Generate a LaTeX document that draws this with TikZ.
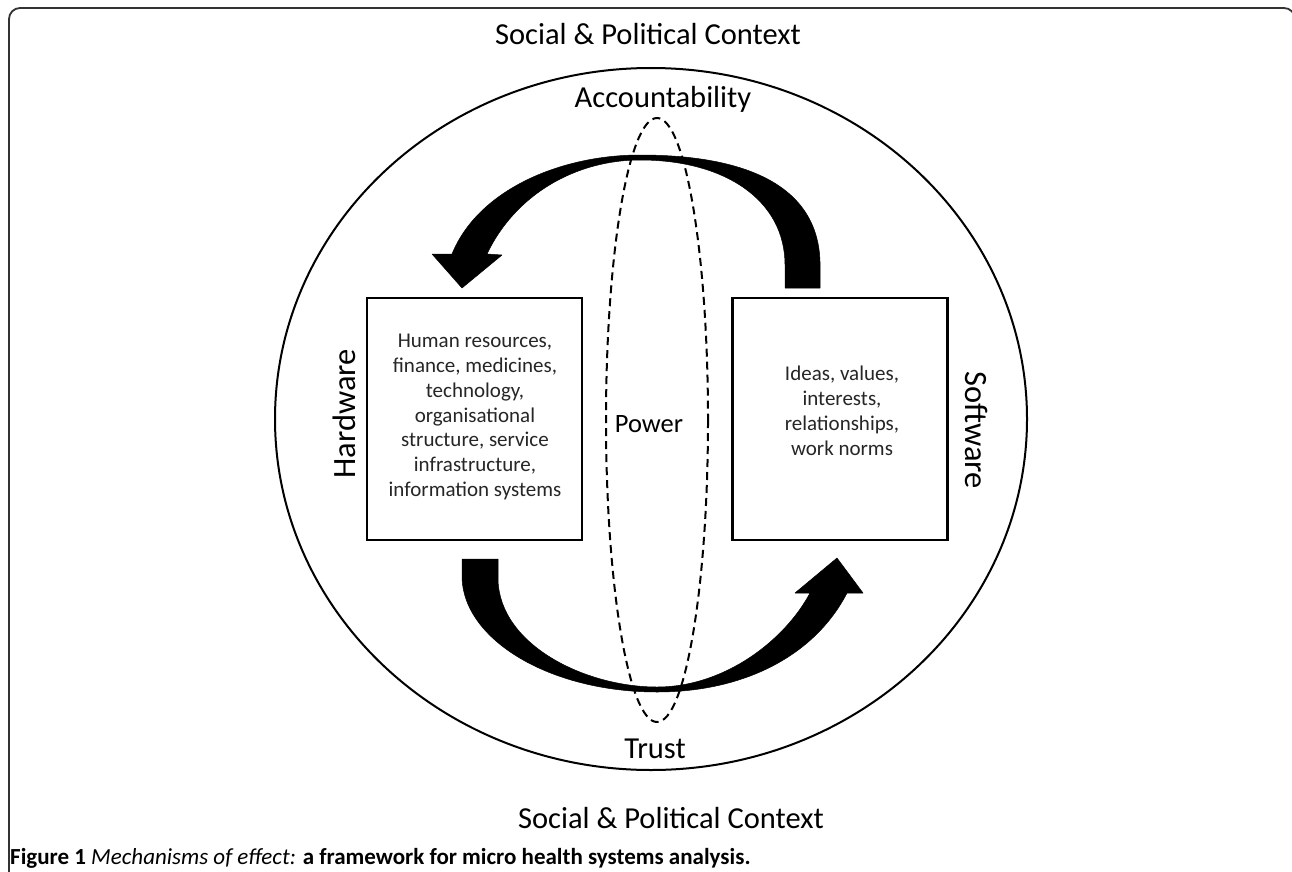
\documentclass[tikz,border=0pt]{standalone}
\usepackage{fontspec}
\setmainfont{Carlito}
\begin{document}
\begin{tikzpicture}[x=1pt,y=-1pt,
  lbl/.style={font=\fontsize{30.5}{34}\selectfont, inner sep=0pt},
  sidelbl/.style={font=\fontsize{32.5}{36}\selectfont, inner sep=0pt},
  boxtxt/.style={font=\fontsize{21}{24.9}\selectfont, align=center, inner sep=0pt, text=black!85},
  box/.style={draw, line width=2.2pt, minimum width=215pt, minimum height=242pt, inner sep=0pt},
  fat/.style={fill=black, draw=black, line width=0.5pt, line join=round}]
\useasboundingbox (0,0) rectangle (1292,872);
\fill[white] (0,0) rectangle (1292,872);
\draw[line width=1.8pt, black!80, rounded corners=11pt] (9,900) -- (9,8) -- (1295,8) -- (1295,900);
% outer circle
\draw[line width=2pt] (651,419) ellipse [x radius=376, y radius=351];
% dashed ellipse
\draw[dash pattern=on 8pt off 5pt, line width=2pt] (657,420) ellipse [x radius=51, y radius=302];
% boxes
\node[box] (hw) at (474.5,419) {};
\node[box] (sw) at (840,419) {};
\node[boxtxt] (hwtxt) at (475,417) {Human resources,\\finance, medicines,\\technology,\\organisational\\structure, service\\infrastructure,\\information systems};
\node[boxtxt] (swtxt) at (842,411) {Ideas, values,\\interests,\\relationships,\\work norms};
% labels
\node[sidelbl, rotate=90] (hwl) at (344,414) {Hardware};
\node[sidelbl, rotate=-90] (swl) at (977,430) {Software};
\node[lbl, anchor=base, font=\fontsize{26.5}{30}\selectfont] (power) at (649,432) {Power};
\node[lbl, anchor=base] (acc) at (663,107) {Accountability};
\node[lbl, anchor=base] (trust) at (655,758) {Trust};
\node[lbl, anchor=base] (spctop) at (648,45) {Social \& Political Context};
\node[lbl, anchor=base] (spcbot) at (671,828) {Social \& Political Context};
% arrows
\path[fat] (820,288) -- (820,262) .. controls (818,185) and (745,155) .. (640,155)
  .. controls (560,155) and (478,190) .. (452,254) -- (432,254) -- (462,288) -- (502,255) -- (487,254)
  .. controls (515,195) and (575,160) .. (640,160) .. controls (725,160) and (785,200) .. (785,265) -- (785,288) -- cycle;
\path[fat] (462,559) -- (462,578) .. controls (464,640) and (550,692) .. (657,692)
  .. controls (745,692) and (815,655) .. (847,593) -- (863,593) -- (837,558) -- (795,593) -- (810,593)
  .. controls (785,640) and (725,687) .. (657,687) .. controls (585,687) and (500,645) .. (498,580) -- (498,559) -- cycle;
% caption
\node[anchor=base west, inner sep=0pt, font=\fontsize{23}{26}\selectfont\bfseries] (cap) at (10,864)
  {Figure 1 {\mdseries\itshape Mechanisms of effect:} a framework for micro health systems analysis.};
\end{tikzpicture}
\end{document}
